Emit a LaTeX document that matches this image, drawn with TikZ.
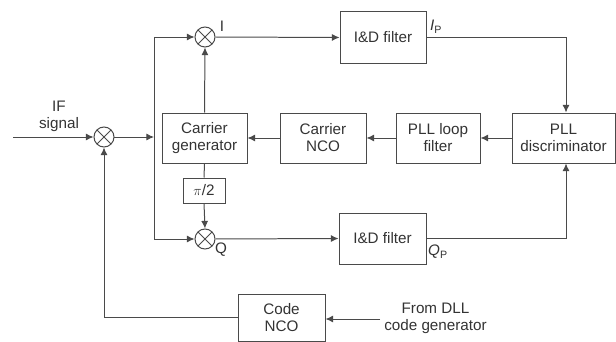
\documentclass[tikz,border=0pt]{standalone}
\usepackage{fontspec}
\setmainfont{Liberation Sans}
\usetikzlibrary{arrows.meta}
\definecolor{ln}{HTML}{4A4A4A}
\definecolor{tx}{HTML}{333333}
\begin{document}
\begin{tikzpicture}[x=0.03cm,y=-0.03cm,
  every node/.style={text=tx,font=\fontsize{13}{14.5}\selectfont},
  blk/.style={draw=ln,line width=0.85pt,inner sep=0pt,align=center},
  mixer/.style={draw=ln,line width=0.85pt,circle,minimum size=0.6cm,inner sep=0pt,
    path picture={\draw[ln,line width=0.7pt] (path picture bounding box.south west) -- (path picture bounding box.north east)
      (path picture bounding box.north west) -- (path picture bounding box.south east);}},
  wire/.style={draw=ln,line width=0.85pt},
  arr/.style={wire,-{Latex[length=6.5pt,width=6pt]}},
  lbl/.style={inner sep=0pt,align=center}]
\useasboundingbox (0,0) rectangle (616,342);
% mixers
\node[mixer] (mix1) at (104,137) {};
\node[mixer] (mixI) at (205,37) {};
\node[mixer] (mixQ) at (205,239) {};
% blocks
\node[blk,minimum width=2.55cm,minimum height=1.5cm] (cg) at (204.5,138) {Carrier\\generator};
\node[blk,minimum width=2.58cm,minimum height=1.5cm] (nco) at (323,138) {Carrier\\NCO};
\node[blk,minimum width=2.52cm,minimum height=1.5cm] (plf) at (438,138) {PLL loop\\filter};
\node[blk,minimum width=3.09cm,minimum height=1.5cm] (disc) at (563.5,138) {PLL\\discriminator};
\node[blk,minimum width=2.58cm,minimum height=1.53cm] (idI) at (383,37.5) {I\&D filter};
\node[blk,minimum width=2.61cm,minimum height=1.53cm] (idQ) at (382.5,238.5) {I\&D filter};
\node[blk,minimum width=1.26cm,minimum height=0.75cm] (pi2) at (204,190.5) {$\pi$/2};
\node[blk,minimum width=2.61cm,minimum height=1.41cm] (code) at (281.5,317.5) {Code\\NCO};
% texts
\node[lbl] (ift) at (59,116) {IF\\signal};
\node[lbl] (dll) at (435.5,318) {From DLL\\code generator};
\node[lbl] (il) at (222,26) {I};
\node[lbl] (ql) at (221,250) {Q};
\node[lbl] (ipl) at (436,27) {\textit{I}\textsubscript{P}};
\node[lbl] (qpl) at (438,252) {\textit{Q}\textsubscript{P}};
% coordinates
\coordinate (in) at (13,137);
\coordinate (j) at (154,137);
\coordinate (jt) at (154,37);
\coordinate (jb) at (154,239);
\coordinate (dx) at (566,0);
\coordinate (dllin) at (380,319);
% connectors
\draw[arr] (in) -- (mix1.west);
\draw[arr] (mix1.east) -- (j);
\draw[wire] (jt) -- (jb);
\draw[arr] (jt) -- (mixI.west);
\draw[arr] (jb) -- (mixQ.west);
\draw[arr] (cg.north) -- (mixI.south);
\draw[wire] (cg.south) -- (pi2.north);
\draw[arr] (pi2.south) -- (mixQ.north);
\draw[arr] (mixI.east) -- (idI.west);
\draw[arr] (mixQ.east) -- (idQ.west);
\draw[arr] (idI.east) -| (dx |- disc.north);
\draw[arr] (idQ.east) -| (dx |- disc.south);
\draw[arr] (disc.west) -- (plf.east);
\draw[arr] (plf.west) -- (nco.east);
\draw[arr] (nco.west) -- (cg.east);
\draw[arr] (code.west) -| (mix1.south);
\draw[arr] (dllin) -- (code.east |- dllin);
\end{tikzpicture}
\end{document}
